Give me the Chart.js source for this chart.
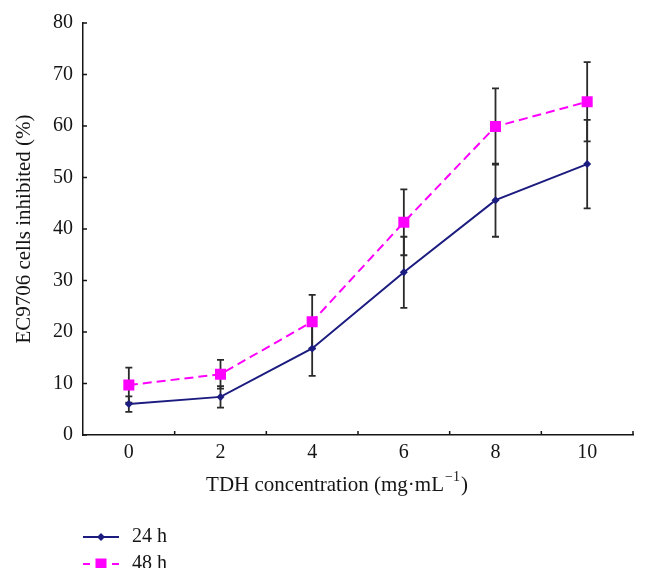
<!DOCTYPE html>
<html>
<head>
<meta charset="utf-8">
<script src="https://cdn.jsdelivr.net/npm/chart.js@4.4.0/dist/chart.umd.min.js"></script>
<style>
  html, body { margin: 0; padding: 0; background: #fff; }
  #wrap { width: 648px; height: 583px; position: relative; }
</style>
</head>
<body>
<div id="wrap"><canvas id="c"></canvas></div>
<script>
const doses = ['0', '2', '4', '6', '8', '10'];
const inhibited24 = [6.0, 7.4, 16.8, 31.6, 45.6, 52.6];
const sd24 = [1.5, 2.1, 5.3, 6.9, 7.1, 8.6];
const inhibited48 = [9.7, 11.8, 22.0, 41.3, 59.9, 64.7];
const sd48 = [3.4, 2.8, 5.2, 6.4, 7.4, 7.7];
const seriesLabels = ['24 h', '48 h'];

const SERIF = '"Liberation Serif", "Times New Roman", serif';
const INK = '#151515';
const NAVY = '#1c1c80';
const MAGENTA = '#ff00ff';
const errorSets = [sd24, sd48];

// error bars go under the markers
const errorBarsPlugin = {
  id: 'errorBars',
  beforeDatasetsDraw(chart) {
    const ctx = chart.ctx, y = chart.scales.y;
    ctx.save();
    ctx.strokeStyle = '#2a2a2a';
    ctx.lineWidth = 1.8;
    chart.data.datasets.forEach((ds, di) => {
      const meta = chart.getDatasetMeta(di);
      errorSets[di].forEach((e, i) => {
        const px = meta.data[i].x;
        const top = y.getPixelForValue(ds.data[i] + e);
        const bot = y.getPixelForValue(ds.data[i] - e);
        ctx.beginPath();
        ctx.moveTo(px, top); ctx.lineTo(px, bot);
        ctx.moveTo(px - 3.5, top); ctx.lineTo(px + 3.5, top);
        ctx.moveTo(px - 3.5, bot); ctx.lineTo(px + 3.5, bot);
        ctx.stroke();
      });
    });
    ctx.restore();
  },
};

// small tick marks pointing into the plot
const inwardTicksPlugin = {
  id: 'inwardTicks',
  afterDatasetsDraw(chart) {
    const { ctx, scales: { x, y } } = chart;
    ctx.save();
    ctx.strokeStyle = INK;
    ctx.lineWidth = 1.5;
    ctx.beginPath();
    y.ticks.forEach(t => {
      const py = y.getPixelForValue(t.value);
      ctx.moveTo(y.right, py); ctx.lineTo(y.right + 4, py);
    });
    const half = (x.getPixelForValue(1) - x.getPixelForValue(0)) / 2;
    doses.forEach((_, i) => {
      const px = x.getPixelForValue(i) + half;
      ctx.moveTo(px, x.top); ctx.lineTo(px, x.top - 4);
    });
    ctx.stroke();
    ctx.restore();
  },
};

const xTitlePlugin = {
  id: 'xTitle',
  afterDraw(chart) {
    const { ctx, chartArea } = chart;
    const main = 'TDH concentration (mg\u00b7mL', sup = '\u22121', close = ')';
    const big = `21px ${SERIF}`, small = `14px ${SERIF}`;
    ctx.save();
    ctx.fillStyle = INK;
    ctx.textAlign = 'left';
    ctx.textBaseline = 'middle';
    ctx.font = big;
    const w1 = ctx.measureText(main).width, w3 = ctx.measureText(close).width;
    ctx.font = small;
    const w2 = ctx.measureText(sup).width;
    const cx = (chartArea.left + chartArea.right) / 2 - 21;
    const py = chartArea.bottom + 50;
    let px = cx - (w1 + w2 + w3 + 2) / 2;
    ctx.font = big;
    ctx.fillText(main, px, py);
    px += w1 + 1;
    ctx.font = small;
    ctx.fillText(sup, px, py - 8);
    px += w2 + 1;
    ctx.font = big;
    ctx.fillText(close, px, py);
    ctx.restore();
  },
};

const legendPlugin = {
  id: 'stackedLegend',
  afterDraw(chart) {
    const { ctx, chartArea } = chart;
    const x0 = chartArea.left;
    const rows = [chartArea.bottom + 102, chartArea.bottom + 129];
    ctx.save();
    ctx.beginPath();
    ctx.rect(0, 0, chart.width, chartArea.bottom + 133);
    ctx.clip();
    // 24 h
    ctx.strokeStyle = NAVY;
    ctx.lineWidth = 2;
    ctx.beginPath();
    ctx.moveTo(x0, rows[0]); ctx.lineTo(x0 + 36, rows[0]);
    ctx.stroke();
    ctx.fillStyle = NAVY;
    ctx.beginPath();
    ctx.moveTo(x0 + 18, rows[0] - 4); ctx.lineTo(x0 + 22, rows[0]);
    ctx.lineTo(x0 + 18, rows[0] + 4); ctx.lineTo(x0 + 14, rows[0]);
    ctx.closePath();
    ctx.fill();
    // 48 h
    ctx.strokeStyle = MAGENTA;
    ctx.setLineDash([7, 22, 7]);
    ctx.beginPath();
    ctx.moveTo(x0, rows[1]); ctx.lineTo(x0 + 36, rows[1]);
    ctx.stroke();
    ctx.setLineDash([]);
    ctx.fillStyle = MAGENTA;
    ctx.fillRect(x0 + 12.5, rows[1] - 5.5, 11, 11);
    ctx.fillStyle = INK;
    ctx.font = `20px ${SERIF}`;
    ctx.textBaseline = 'middle';
    ctx.fillText(seriesLabels[0], x0 + 49, rows[0]);
    ctx.fillText(seriesLabels[1], x0 + 49, rows[1]);
    ctx.restore();
  },
};

new Chart(document.getElementById('c'), {
  type: 'line',
  data: {
    labels: doses,
    datasets: [
      {
        label: seriesLabels[0],
        data: inhibited24,
        borderColor: NAVY,
        backgroundColor: NAVY,
        borderWidth: 2,
        pointStyle: 'rectRot',
        pointRadius: 4,
        pointBorderWidth: 0,
        tension: 0,
      },
      {
        label: seriesLabels[1],
        data: inhibited48,
        borderColor: MAGENTA,
        backgroundColor: MAGENTA,
        borderWidth: 2,
        borderDash: [9, 5],
        pointStyle: 'rect',
        pointRadius: 7.8,
        pointBorderWidth: 0,
        tension: 0,
      },
    ],
  },
  options: {
    responsive: true,
    maintainAspectRatio: false,
    animation: false,
    layout: { padding: { top: 23, right: 15, left: 0, bottom: 0 } },
    scales: {
      x: {
        type: 'category',
        offset: true,
        grid: { offset: true, drawOnChartArea: false, drawTicks: false },
        border: { display: true, color: INK, width: 1.5 },
        ticks: { color: INK, padding: 6, font: { family: SERIF, size: 20 } },
        afterFit: s => { s.height = 148; },
      },
      y: {
        min: 0,
        max: 80,
        ticks: { stepSize: 10, color: INK, padding: 10, font: { family: SERIF, size: 20 } },
        grid: { drawOnChartArea: false, drawTicks: false },
        border: { display: true, color: INK, width: 1.5 },
        title: {
          display: true,
          text: 'EC9706 cells inhibited (%)',
          color: INK,
          font: { family: SERIF, size: 21 },
          padding: { top: 12, bottom: 0 },
        },
        afterFit: s => { s.width = 83; },
      },
    },
    plugins: {
      legend: { display: false },
      tooltip: { enabled: false },
    },
  },
  plugins: [errorBarsPlugin, inwardTicksPlugin, xTitlePlugin, legendPlugin],
});
</script>
</body>
</html>
